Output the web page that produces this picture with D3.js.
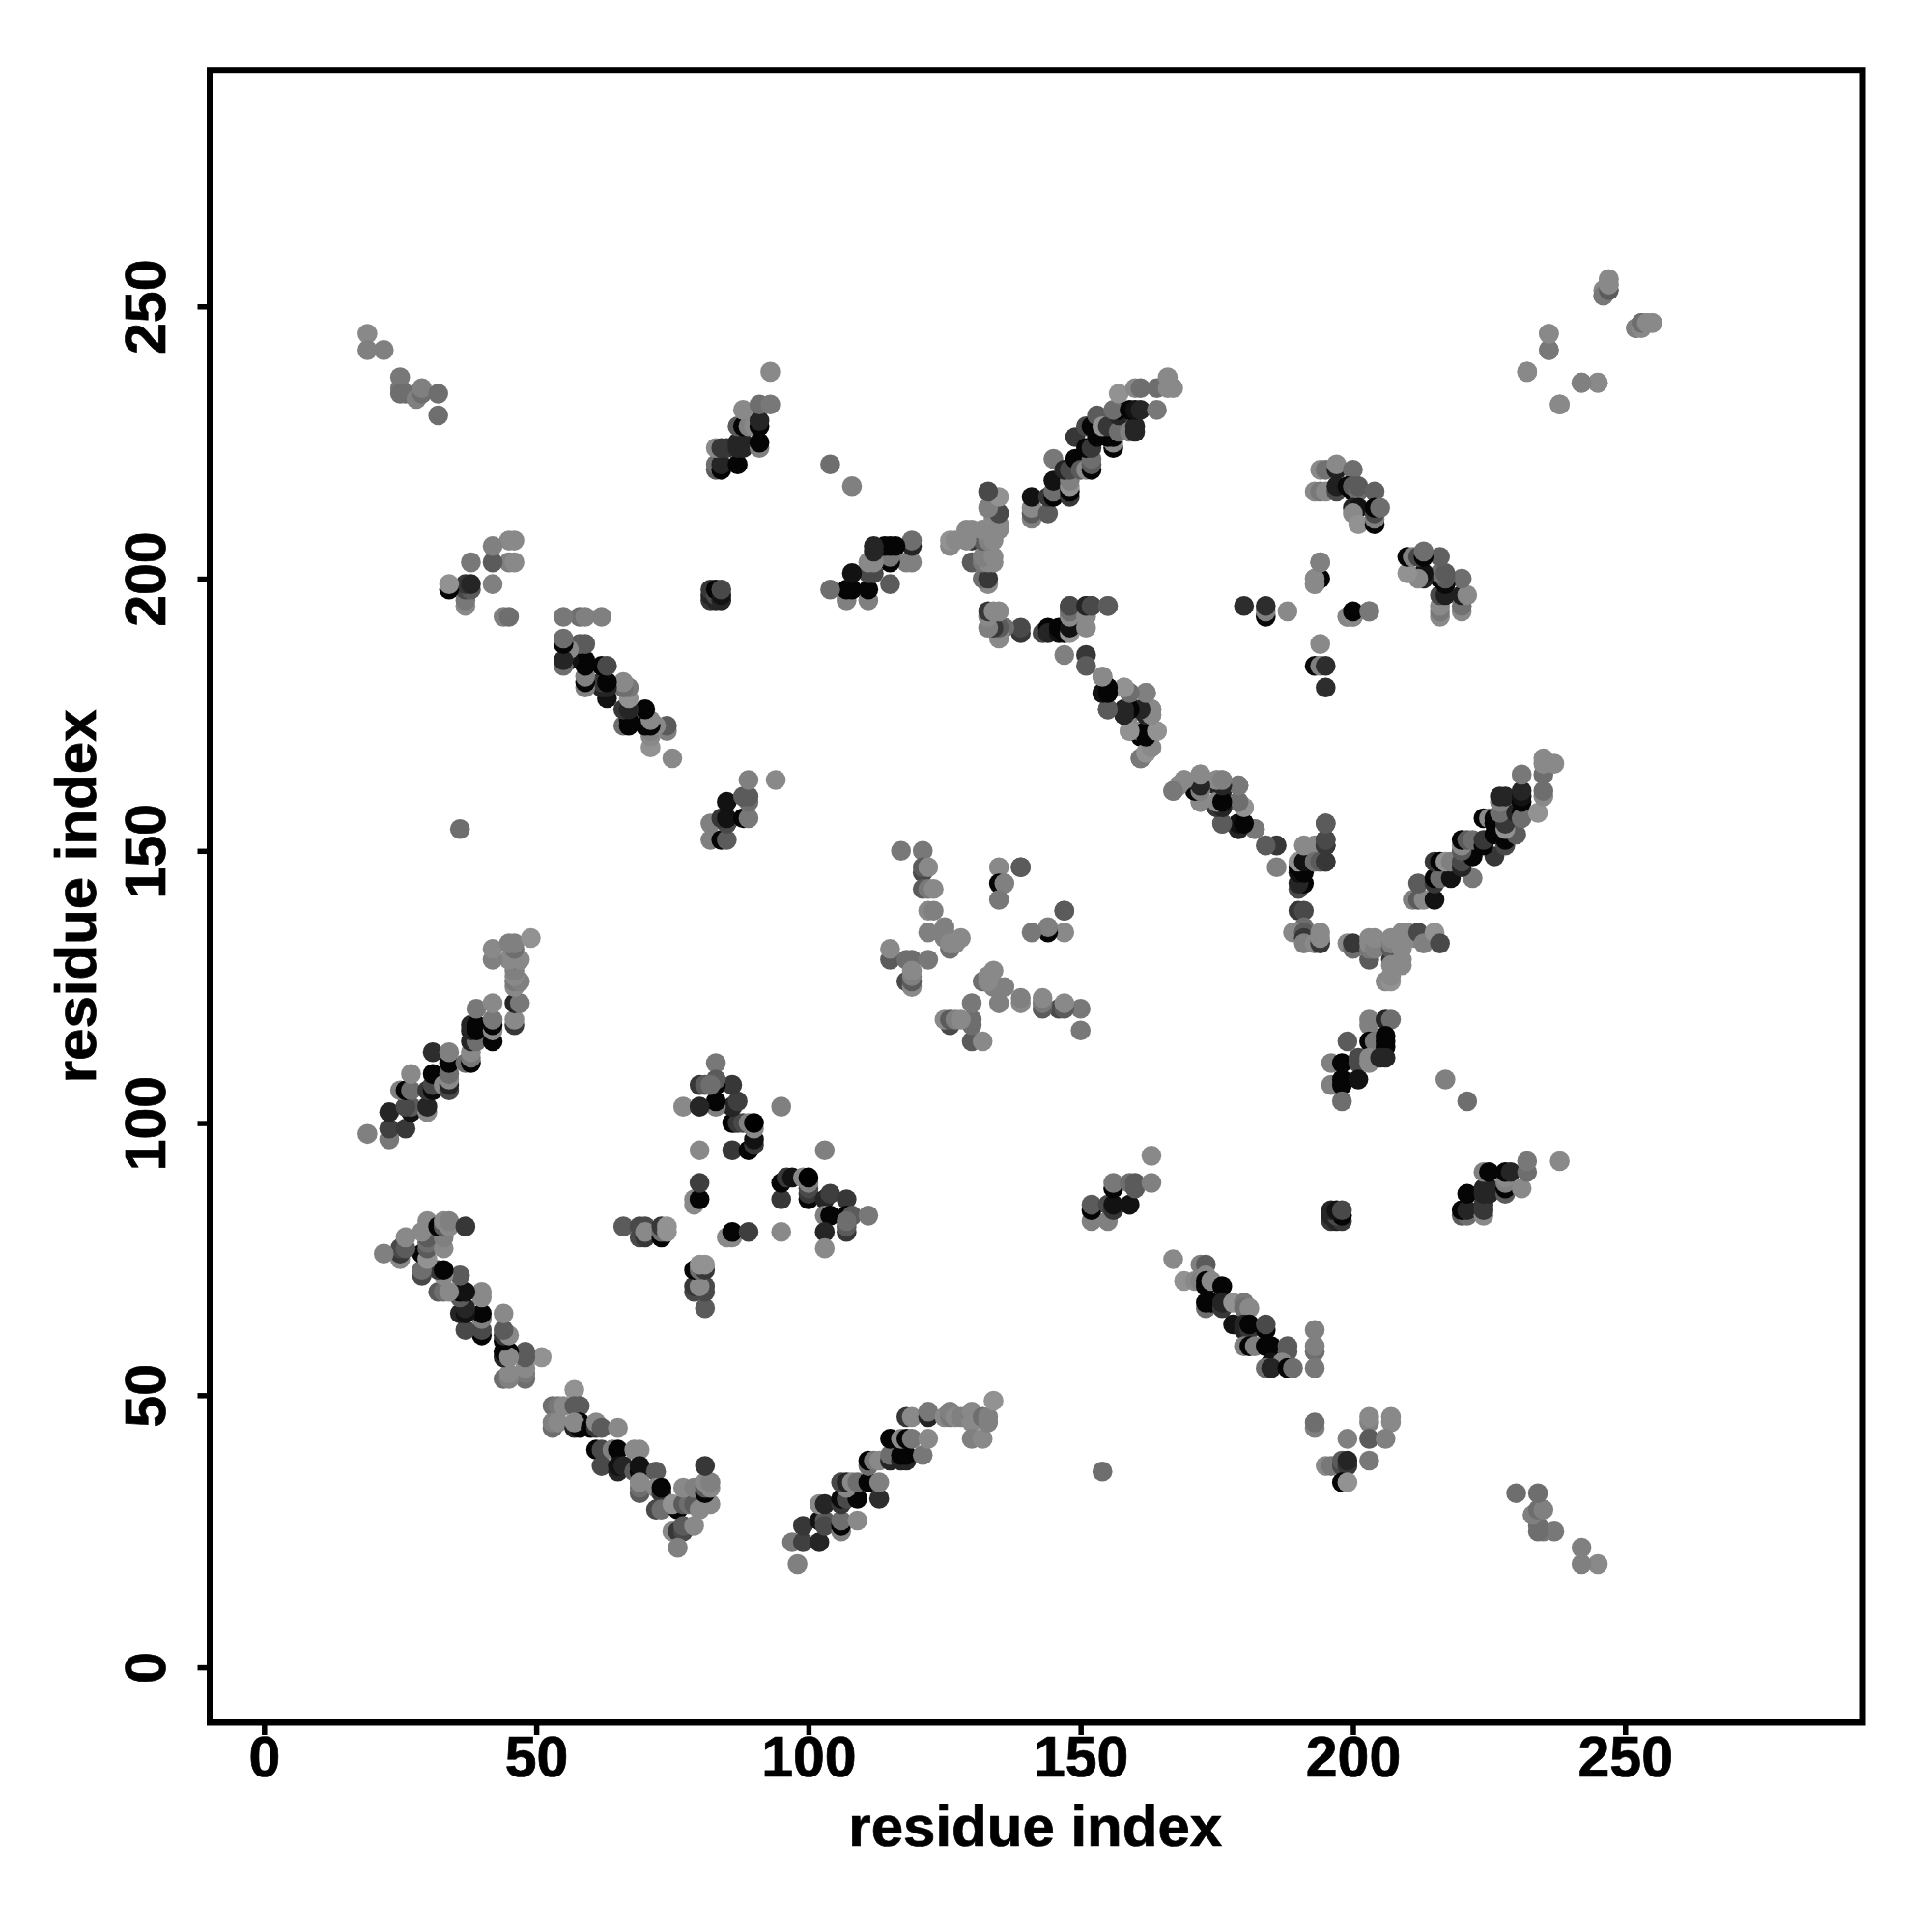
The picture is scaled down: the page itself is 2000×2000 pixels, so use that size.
<!DOCTYPE html>
<html>
<head>
<meta charset="utf-8">
<script src="https://cdn.jsdelivr.net/npm/d3@7"></script>
<style>
html,body{margin:0;padding:0;background:#fff}
svg{display:block}
text{font-family:"Liberation Sans",Arial,sans-serif;font-weight:bold;fill:#000;stroke:#000;stroke-width:0.7px}
</style>
</head>
<body>
<svg id="chart" width="2000" height="2000"></svg>
<script>
// Contact pairs [residue i, residue j, grey level]; the map is symmetric.
const strandA = [[98,19,119],[97,23,112],[99,23,60],[102,23,34],[99,26,51],[102,27,17],[103,27,85],[103,26,68],[106,25,119],[106,26,5],[106,27,102],[109,27,128],[102,30,128],[103,30,34],[106,30,51],[106,31,10],[107,31,68],[109,31,5],[113,31,42],[107,33,128],[106,34,68],[107,34,34],[108,34,128],[109,34,102],[111,34,5],[113,34,119],[111,37,102],[111,38,5],[112,38,112],[113,38,128],[115,38,34],[115,39,102],[117,38,34],[118,38,34],[117,39,5],[118,39,5],[121,39,112],[115,42,5],[117,42,128],[118,42,5],[119,42,112],[122,42,128],[118,46,51],[119,46,128],[122,46,34],[122,47,112],[125,46,128],[126,46,112],[126,47,119],[127,46,128],[128,46,119],[130,46,112],[130,47,128],[130,45,128],[130,42,119],[132,42,128],[132,46,102],[133,46,119],[133,45,119],[134,49,136]];

const strandB = [[57,51,136],[53,48,102],[54,48,112],[55,48,128],[57,48,85],[58,48,85],[53,44,102],[53,45,119],[54,45,128],[57,44,34],[58,44,5],[58,45,5],[57,45,128],[60,44,5],[61,44,51],[61,45,128],[62,44,85],[65,44,128],[61,40,5],[62,40,68],[64,40,119],[65,40,5],[68,40,128],[69,40,128],[62,37,68],[65,36,34],[65,37,17],[66,37,34],[68,36,85],[69,36,5],[69,37,17],[72,36,85],[69,32,85],[69,33,102],[69,34,128],[72,33,128],[73,32,51],[73,33,5],[72,29,68],[73,29,102],[76,29,5],[75,30,136],[77,30,85],[78,30,102],[79,30,85],[80,29,128],[82,30,128],[77,33,128],[79,33,119],[81,32,5],[81,33,85],[81,34,128],[82,33,128],[82,34,119],[81,37,51],[75,25,128],[76,25,51],[77,25,68],[77,26,85],[79,26,128],[76,22,119]];

const starC = [[95,103,119],[80,95,128],[77,103,128],[83,111,112],[95,86,51],[95,89,5],[96,90,51],[97,90,17],[99,90,128],[100,86,5],[100,87,51],[100,88,68],[100,89,119],[100,90,0],[103,86,34],[104,87,58],[107,86,51],[103,83,119],[104,83,5],[107,83,5],[108,83,85],[103,80,34],[107,80,51],[107,81,85],[107,82,102],[79,86,128],[79,85,128],[80,86,5],[80,89,58],[66,81,85],[69,79,68],[70,79,51],[69,81,68],[70,81,68],[70,80,128],[73,79,5],[73,80,102],[73,81,51],[74,80,136],[74,81,136]];

const strandE = [[152,82,119],[155,82,119],[152,84,5],[152,85,85],[155,85,68],[156,84,51],[156,85,17],[159,85,17],[156,88,5],[156,89,112],[159,89,102],[160,88,85],[160,89,85],[163,89,119],[163,94,128]];

const strandF = [[167,75,128],[172,74,119],[173,74,85],[169,71,136],[171,71,128],[172,71,119],[173,72,128],[173,71,5],[173,70,5],[174,71,128],[176,70,5],[173,66,102],[173,67,5],[174,67,5],[176,66,51],[176,67,34],[178,67,136],[180,67,112],[180,66,102],[181,66,128],[178,63,17],[180,62,34],[180,63,34],[181,62,51],[181,63,5],[184,62,5],[184,63,68],[180,59,119],[181,59,5],[182,59,119],[184,59,5],[185,59,5],[188,58,85],[188,59,85],[185,56,17],[187,56,128],[184,55,102],[185,55,34],[188,55,5],[189,55,102]];

const groupG = [[193,62,119],[193,58,102],[193,59,119],[193,55,112],[193,44,119],[193,45,102],[199,42,119],[203,45,119],[203,46,128],[207,45,128],[207,46,128],[203,42,85],[206,42,119],[203,38,112],[195,37,128],[196,37,112],[198,37,68],[198,38,85],[199,37,51],[199,38,34],[198,34,5],[199,34,136],[154,36,102]];

const groupH = [[203,118,119],[203,119,119],[206,119,34],[207,119,102],[199,115,85],[203,115,5],[204,115,112],[206,114,5],[206,115,5],[206,116,5],[196,111,119],[198,111,5],[201,111,68],[201,112,68],[203,111,128],[203,112,128],[205,112,34],[206,112,34],[196,107,119],[197,107,119],[198,107,5],[198,108,5],[201,108,17],[198,104,102],[217,108,119],[221,104,102]];

const blockI = [[196,82,51],[197,82,34],[198,82,51],[196,83,34],[197,83,68],[198,83,5],[196,84,34],[197,84,17],[198,84,68]];

const strandJ = [[220,83,85],[221,83,102],[220,84,5],[221,84,34],[224,83,128],[224,84,51],[224,85,51],[221,87,5],[224,87,34],[225,87,34],[224,88,34],[225,88,34],[228,87,85],[228,88,5],[228,89,119],[228,90,128],[224,91,119],[225,91,5],[228,91,5],[229,91,34],[231,88,128],[232,91,102],[232,93,112],[238,93,128]];

const tipK = [[19,245,128],[19,242,119],[22,242,119],[25,237,112],[25,235,112],[25,234,102],[26,234,102],[28,233,119],[29,234,102],[29,235,119],[32,234,102],[32,230,102]];

const starN = [[117,150,112],[121,150,112],[121,146,68],[121,147,85],[122,147,128],[121,143,85],[122,143,112],[123,143,128],[122,139,128],[123,139,119],[122,135,119],[125,134,119],[125,135,119],[125,136,119],[126,132,102],[126,133,128],[127,133,128],[128,134,128],[135,147,128],[139,147,85],[135,144,5],[136,144,119],[135,141,112],[147,139,85],[115,130,85],[115,132,128],[118,130,102],[119,130,102],[122,130,112],[118,126,68],[119,125,128],[119,126,85],[119,127,119],[119,128,128]];

const arcQ = [[190,143,68],[191,144,5],[190,144,34],[190,146,17],[191,146,5],[190,147,5],[191,147,5],[190,148,136],[191,148,17],[193,148,128],[194,148,102],[195,148,68],[191,151,128],[193,151,128],[195,151,34],[195,152,68],[195,155,85],[190,139,51],[191,139,68],[191,136,102],[189,135,128],[190,135,128],[191,135,85],[191,134,51],[191,133,119],[193,133,128],[194,133,51],[194,134,128],[194,135,128]];

const clusterP = [[199,133,128],[200,132,102],[200,133,51],[203,130,85],[203,132,112],[203,133,128],[203,134,128],[204,132,119],[204,134,128],[207,130,51],[207,132,85],[207,133,119],[207,134,128],[207,129,128],[208,129,128],[206,126,128],[207,126,136],[207,127,128],[209,129,128],[209,130,128],[209,132,128],[209,133,128],[209,134,128],[209,135,128],[210,135,128],[211,134,128],[212,135,68],[213,133,119],[215,135,136],[216,133,68]];

const strandO = [[211,141,119],[212,141,85],[213,141,128],[215,141,17],[212,144,85],[215,144,51],[215,145,5],[216,145,102],[218,145,17],[222,145,112],[215,148,51],[216,148,5],[217,148,136],[218,148,119],[220,147,34],[220,148,68],[222,149,5],[226,149,51],[220,150,85],[220,151,128],[220,152,5],[221,152,85],[222,152,102],[224,151,5],[224,152,51],[226,153,5],[228,151,68],[228,152,5],[230,153,85],[224,156,5],[225,156,128],[226,155,5],[226,156,5],[228,154,136],[228,155,51],[228,156,51],[227,157,102],[230,157,34],[231,157,5],[231,156,102],[227,159,119],[227,160,34],[228,160,34],[231,159,5],[231,160,17],[231,161,34],[231,164,112],[234,157,136],[235,160,128],[235,161,102],[235,164,102],[235,166,128],[235,167,128],[237,166,128]];

const arcR = [[148,193,102],[148,194,85],[148,195,51],[151,195,51],[152,195,68],[155,195,85],[151,186,51],[151,184,85],[154,182,112],[147,186,119],[154,179,34],[155,179,17],[155,180,5],[155,176,85],[158,180,136],[159,179,102],[162,179,112],[158,175,51],[158,176,34],[159,175,128],[159,176,5],[162,176,34],[163,175,128],[163,176,119],[159,172,128],[161,171,5],[162,171,5],[161,172,119],[162,172,34],[164,172,128],[163,169,128],[162,168,128],[161,167,112]];

const arcR2 = [[167,161,112],[168,162,136],[169,163,128],[172,161,128],[171,162,5],[172,162,5],[172,164,136],[172,159,136],[175,162,34],[175,163,128],[176,163,128],[176,161,34],[179,162,119],[176,159,5],[175,158,34],[176,158,34],[179,159,102],[180,158,136],[176,155,85],[179,154,17],[179,155,5],[180,155,5],[182,154,128]];

const crossS = [[180,195,42],[184,193,8],[184,194,119],[184,195,42],[188,194,128],[193,199,125],[193,200,128],[194,200,5],[194,203,112],[199,193,128],[200,193,128],[203,194,119]];

const clusterS = [[194,220,128],[195,220,105],[197,220,30],[197,221,128],[200,220,102],[193,216,128],[194,216,112],[195,216,128],[197,216,68],[197,217,30],[199,217,8],[200,216,5],[200,217,85],[201,216,102],[201,217,85],[204,216,90],[200,213,34],[201,213,17],[200,212,128],[201,210,136],[204,210,5],[204,211,119],[204,212,68],[204,213,5],[205,213,102]];

const tipU = [[246,252,119],[246,253,128],[247,253,102],[247,254,128],[247,255,128],[252,246,112],[253,247,85],[254,247,128],[255,247,128],[236,245,128],[236,242,119],[232,238,128],[242,236,112],[245,236,128],[238,232,128]];

const tickValues = [0, 50, 100, 150, 200, 250];
const axisTitle = "residue index";

const contacts = [strandA, strandB, starC, strandE, strandF, groupG, groupH, blockI, strandJ, tipK, starN, arcQ, clusterP, strandO, arcR, arcR2, crossS, clusterS, tipU].flat();

const plotLeft = 217.5, plotRight = 1928, plotTop = 72.7, plotBottom = 1783;
const xScale = d3.scaleLinear().domain([-9.9, 293.6]).range([plotLeft, plotRight]);
const yScale = d3.scaleLinear().domain([-10.1, 293.4]).range([plotBottom, plotTop]);
const greyScale = d3.scaleLinear().domain([0, 136]).range([0, 146]);
const svg = d3.select("#chart");

function drawPoints(sel, getX, getY) {
  sel.selectAll("circle").data(contacts).join("circle")
    .attr("cx", d => xScale(getX(d)))
    .attr("cy", d => yScale(getY(d)))
    .attr("r", 10.3)
    .attr("fill", d => { const g = greyScale(d[2]); return d3.rgb(g, g, g); });
}
drawPoints(svg.append("g"), d => d[0], d => d[1]);
drawPoints(svg.append("g"), d => d[1], d => d[0]);

svg.append("rect").attr("x", plotLeft).attr("y", plotTop)
  .attr("width", plotRight - plotLeft).attr("height", plotBottom - plotTop)
  .attr("fill", "none").attr("stroke", "#000").attr("stroke-width", 7);

const gx = svg.append("g").attr("transform", `translate(0,${plotBottom})`)
  .call(d3.axisBottom(xScale).tickValues(tickValues).tickSize(13).tickPadding(8));
const gy = svg.append("g").attr("transform", `translate(${plotLeft},0)`)
  .call(d3.axisLeft(yScale).tickValues(tickValues).tickSize(13).tickPadding(8));
[gx, gy].forEach(g => {
  g.select(".domain").remove();
  g.selectAll(".tick line").attr("stroke", "#000").attr("stroke-width", 5.5);
});
gx.selectAll("text").attr("font-size", 59).attr("y", 0).attr("dy", 0)
  .attr("transform", "translate(0,56)").attr("text-anchor", "middle");
gy.selectAll("text").attr("font-size", 59).attr("x", 0).attr("dy", 0)
  .attr("transform", "translate(-47,0) rotate(-90)").attr("text-anchor", "middle");

svg.append("text").attr("x", (plotLeft + plotRight) / 2 - 1).attr("y", 1911)
  .attr("text-anchor", "middle").attr("font-size", 60).text(axisTitle);
svg.append("text").attr("transform", `translate(99,${(plotTop + plotBottom) / 2}) rotate(-90)`)
  .attr("text-anchor", "middle").attr("font-size", 60).text(axisTitle);
</script>
</body>
</html>
